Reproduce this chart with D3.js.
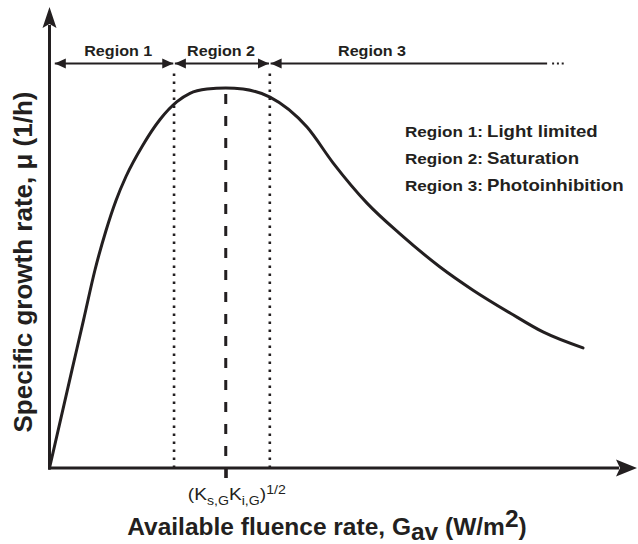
<!DOCTYPE html>
<html><head><meta charset="utf-8">
<script src="https://cdn.jsdelivr.net/npm/d3@7"></script>
<style>
body{margin:0;background:#fff}
svg{display:block}
text{font-family:"Liberation Sans",Arial,Helvetica,sans-serif;fill:#231f20}
</style>
</head><body>
<svg id="c" width="638" height="544"></svg>
<script>
// ---- data (normalised: fluence rate in arbitrary units, growth rate as mu/mu_max) ----
const fluence = [0, 0.383, 0.579, 0.774, 0.962, 1.132, 1.302, 1.591, 1.881, 2.170, 2.391, 2.681, 3.0, 3.294, 3.753, 4.383, 4.826, 5.404, 5.966, 6.647, 7.209, 7.838, 8.400, 9.081];
const growth  = [0, 0.258, 0.389, 0.521, 0.625, 0.704, 0.767, 0.850, 0.917, 0.964, 0.986, 0.997, 1.0, 0.997, 0.976, 0.897, 0.803, 0.697, 0.616, 0.529, 0.468, 0.408, 0.358, 0.316];
const boundaries = [2.12, 3.75];          // region borders (dotted lines)
const optimum = 3.0;                       // (Ks,G Ki,G)^1/2 (dashed line)
const regionNames = ["Region 1", "Region 2", "Region 3"];
const regionLabelX = [1.17, 2.92, 5.49];
const regionExtent = [0.09, 8.47];         // first arrow start, last arrow end
const legendKeys = ["Region 1:", "Region 2:", "Region 3:"];
const legendDescriptions = ["Light limited", "Saturation", "Photoinhibition"];
const xMax = 10, yMax = 1.213;

const ink = "#231f20";
const svg = d3.select("#c");
const x = d3.scaleLinear().domain([0, xMax]).range([49.5, 637]);
const y = d3.scaleLinear().domain([0, yMax]).range([468, 7]);

// ---- axis tick at the optimum ----
const gx = svg.append("g").attr("transform", `translate(0,${y(0)})`)
  .call(d3.axisBottom(x).tickValues([optimum]).tickSize(10).tickSizeOuter(0).tickFormat(""));
gx.select(".domain").remove();
gx.selectAll(".tick line").attr("stroke", ink).attr("stroke-width", 3);

// ---- dotted region borders ----
const arrowY = 63.5;
svg.selectAll("line.border").data(boundaries).join("line")
  .attr("class", "border")
  .attr("x1", d => x(d)).attr("x2", d => x(d))
  .attr("y1", y(0)).attr("y2", arrowY + 6)
  .attr("stroke", ink).attr("stroke-width", 2.6).attr("stroke-dasharray", "2.6,5.4");

// ---- dashed optimum line ----
svg.append("line")
  .attr("x1", x(optimum)).attr("x2", x(optimum))
  .attr("y1", y(0) + 10).attr("y2", y(1))
  .attr("stroke", ink).attr("stroke-width", 3).attr("stroke-dasharray", "10,12");

// ---- axes lines + arrowheads ----
svg.append("line").attr("x1", x(0) - 1.5).attr("x2", x(xMax) - 18)
  .attr("y1", y(0)).attr("y2", y(0)).attr("stroke", ink).attr("stroke-width", 3);
svg.append("line").attr("x1", x(0)).attr("x2", x(0))
  .attr("y1", y(0) + 1.5).attr("y2", y(yMax) + 18).attr("stroke", ink).attr("stroke-width", 3);
svg.append("path").attr("fill", ink)
  .attr("d", `M${x(xMax)},${y(0)} L${x(xMax)-21},${y(0)-8.5} L${x(xMax)-17},${y(0)} L${x(xMax)-21},${y(0)+8.5} Z`);
svg.append("path").attr("fill", ink)
  .attr("d", `M${x(0)},${y(yMax)} L${x(0)+7},${y(yMax)+21} L${x(0)},${y(yMax)+17} L${x(0)-7},${y(yMax)+21} Z`);

// ---- curve ----
const pts = fluence.map((f, i) => [f, growth[i]]);
svg.append("path").datum(pts)
  .attr("fill", "none").attr("stroke", ink).attr("stroke-width", 3)
  .attr("stroke-linejoin", "round").attr("stroke-linecap", "round")
  .attr("d", d3.line().x(d => x(d[0])).y(d => y(d[1])).curve(d3.curveMonotoneX));

// ---- region arrows ----
const starts = [regionExtent[0], ...boundaries];
const ends = [...boundaries, regionExtent[1]];
function head(px, dir) { // dir: -1 points left, +1 points right
  const L = 11, H = 5;
  svg.append("path").attr("fill", ink)
    .attr("d", `M${px},${arrowY} L${px - dir*L},${arrowY - H} L${px - dir*L},${arrowY + H} Z`);
}
regionNames.forEach((name, i) => {
  const a = x(starts[i]) + (i > 0 ? 0.8 : 0);
  const b = x(ends[i]) - (i < regionNames.length - 1 ? 0.8 : 0);
  svg.append("line").attr("x1", a).attr("x2", b).attr("y1", arrowY).attr("y2", arrowY)
    .attr("stroke", ink).attr("stroke-width", 1.8);
  head(a, -1);
  if (i < regionNames.length - 1) head(b, 1);
  const lx = x(regionLabelX[i]);
  svg.append("text").attr("transform", `translate(${lx},56) scale(1.04,1)`)
    .attr("text-anchor", "middle").attr("font-weight", "bold").attr("font-size", 15.5)
    .text(name);
});
// continuation dots
svg.append("line").attr("x1", x(regionExtent[1]) + 5).attr("x2", x(regionExtent[1]) + 17)
  .attr("y1", arrowY).attr("y2", arrowY)
  .attr("stroke", ink).attr("stroke-width", 2).attr("stroke-dasharray", "2,2.8");

// ---- legend ----
legendKeys.forEach((k, i) => {
  const by = 137 + i * 27;
  svg.append("text").attr("transform", `translate(405,${by}) scale(1.14,1)`)
    .attr("font-weight", "bold").attr("font-size", 15).text(k);
  svg.append("text").attr("transform", `translate(487,${by}) scale(1.13,1)`)
    .attr("font-weight", "bold").attr("font-size", 16.5).text(legendDescriptions[i]);
});

// ---- optimum label ----
const ks = svg.append("text").attr("transform", `translate(${x(optimum) - 38},500) scale(1.13,1)`)
  .attr("font-size", 17);
ks.append("tspan").text("(K");
ks.append("tspan").attr("font-size", 12.5).attr("dy", 5).text("s,G");
ks.append("tspan").attr("dy", -5).text("K");
ks.append("tspan").attr("font-size", 12.5).attr("dy", 5).text("i,G");
ks.append("tspan").attr("dy", -5).text(")");
ks.append("tspan").attr("font-size", 12.5).attr("dy", -6).text("1/2");

// ---- axis titles ----
const xt = svg.append("text").attr("x", 327).attr("y", 535)
  .attr("text-anchor", "middle").attr("font-weight", "bold").attr("font-size", 24.5);
xt.append("tspan").text("Available fluence rate, G");
xt.append("tspan").attr("dy", 5).text("av");
xt.append("tspan").attr("dy", -5).text(" (W/m");
xt.append("tspan").attr("dy", -8).text("2");
xt.append("tspan").attr("dy", 8).text(")");

svg.append("text").attr("transform", "translate(32,262) rotate(-90)")
  .attr("text-anchor", "middle").attr("font-weight", "bold").attr("font-size", 26)
  .text("Specific growth rate, \u03bc (1/h)");
</script>
</body></html>
